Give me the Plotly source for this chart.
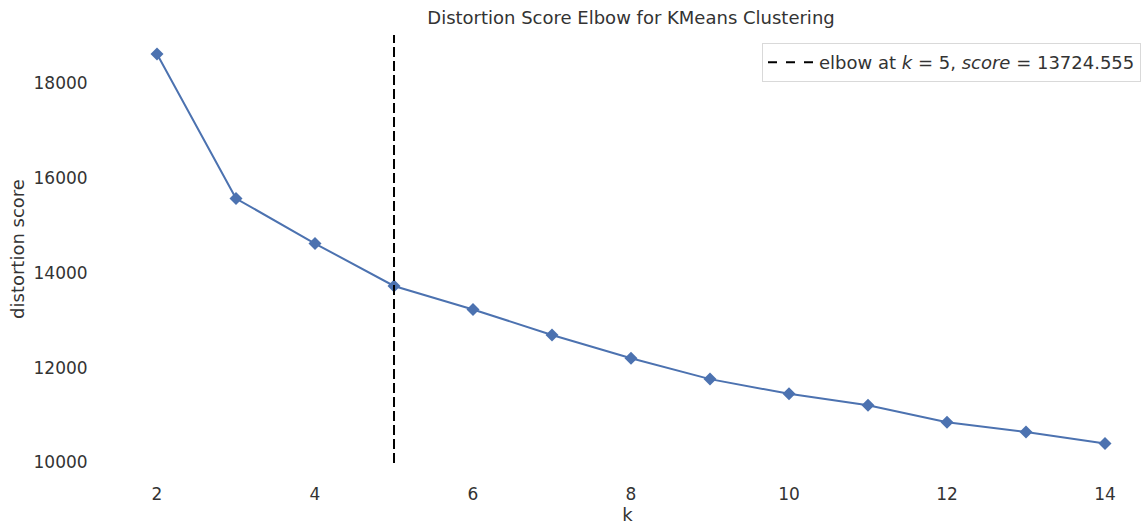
import plotly.graph_objects as go

# Number of clusters tried and the resulting distortion score
k_values = [2, 3, 4, 5, 6, 7, 8, 9, 10, 11, 12, 13, 14]
distortion = [18620, 15570, 14620, 13724.555, 13230, 12690, 12200,
              11760, 11450, 11210, 10850, 10645, 10400]

elbow_k = 5
elbow_score = 13724.555

x_ticks = [2, 4, 6, 8, 10, 12, 14]
y_ticks = [10000, 12000, 14000, 16000, 18000]

LINE_BLUE = "#4C72B0"
TEXT = "#333333"
FONT = "DejaVu Sans"
DASH = "10px,4px"

fig = go.Figure()

fig.add_trace(go.Scatter(
    x=k_values, y=distortion,
    mode="lines+markers",
    line=dict(color=LINE_BLUE, width=2),
    marker=dict(symbol="diamond", size=10, color=LINE_BLUE),
    showlegend=False,
    hoverinfo="x+y",
))

# Elbow marker spanning the full plot height
fig.add_shape(
    type="line", xref="x", yref="y domain",
    x0=elbow_k, x1=elbow_k, y0=0, y1=1,
    line=dict(color="black", width=2, dash=DASH),
)
# Legend entry for the elbow line
fig.add_trace(go.Scatter(
    x=[None], y=[None], mode="lines",
    line=dict(color="black", width=2, dash="dash"),
    name=f"elbow at <i>k</i> = {elbow_k}, <i>score</i> = {elbow_score:.3f}",
    showlegend=True,
))

fig.update_layout(
    width=1145, height=527,
    margin=dict(l=110, r=0, t=35, b=64, autoexpand=False),
    paper_bgcolor="white", plot_bgcolor="white",
    font=dict(family=FONT, size=17, color=TEXT),
    title=dict(
        text="Distortion Score Elbow for KMeans Clustering",
        x=631 / 1145, xanchor="center", xref="container",
        y=1 - 18 / 527, yanchor="middle", yref="container",
        font=dict(size=18, color=TEXT),
    ),
    legend=dict(
        x=1141 / 1145, xanchor="right", xref="container",
        y=1 - 43 / 527, yanchor="top", yref="container",
        bgcolor="white", bordercolor="#d9d9d9", borderwidth=1,
        itemwidth=46,
        font=dict(size=18, color=TEXT),
    ),
    xaxis=dict(
        range=[1.405, 14.506],
        tickvals=x_ticks,
        ticks="outside", ticklen=16, tickcolor="rgba(0,0,0,0)",
        showgrid=False, zeroline=False, showline=False,
        title=dict(text="k", standoff=4, font=dict(size=18, color=TEXT)),
    ),
    yaxis=dict(
        range=[9990, 19020],
        tickvals=y_ticks, tickformat="d",
        ticks="outside", ticklen=18, tickcolor="rgba(0,0,0,0)",
        showgrid=False, zeroline=False, showline=False,
        title=dict(text="distortion score", standoff=4, font=dict(size=18, color=TEXT)),
    ),
)

fig.write_html("out.html")
